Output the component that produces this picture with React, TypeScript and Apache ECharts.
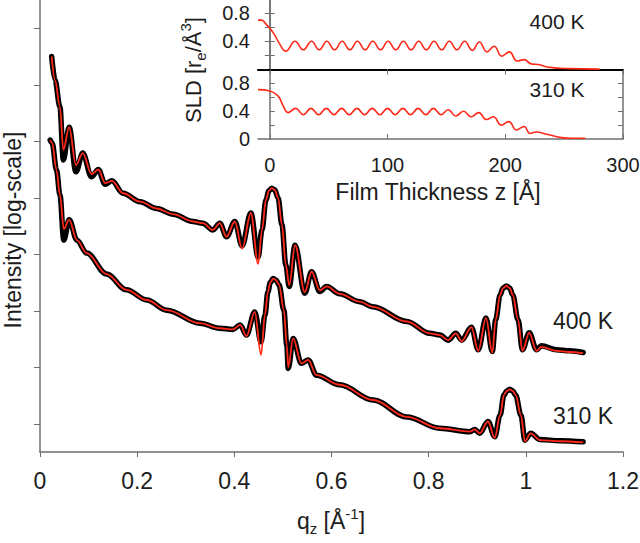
import React, { useEffect, useRef } from "react";
import * as echarts from "echarts";

// ---- Main reflectivity curves (q in 1/Å, intensity in decades, arbitrary offset) ----
const q400 = [0.024, 0.031, 0.041, 0.048, 0.060, 0.074, 0.088, 0.106, 0.120, 0.134, 0.148, 0.171, 0.206, 0.240, 0.274, 0.315, 0.335, 0.356, 0.370, 0.384, 0.401, 0.416, 0.434, 0.449, 0.457, 0.465, 0.471, 0.477, 0.483, 0.490, 0.498, 0.506, 0.513, 0.525, 0.545, 0.559, 0.576, 0.590, 0.617, 0.658, 0.685, 0.755, 0.802, 0.823, 0.840, 0.856, 0.868, 0.888, 0.902, 0.918, 0.931, 0.938, 0.947, 0.953, 0.960, 0.967, 0.973, 0.984, 0.993, 1.007, 1.022, 1.032, 1.063, 1.090, 1.118];
const data400 = [7.50, 7.08, 6.61, 5.67, 6.25, 5.46, 5.79, 5.37, 5.50, 5.24, 5.30, 5.08, 4.93, 4.81, 4.71, 4.58, 4.55, 4.43, 4.55, 4.31, 4.58, 4.15, 4.73, 3.95, 4.43, 4.96, 5.12, 5.17, 5.14, 5.00, 4.52, 3.81, 3.43, 4.16, 3.31, 3.69, 3.34, 3.43, 3.30, 3.16, 3.07, 2.81, 2.60, 2.57, 2.48, 2.60, 2.48, 2.71, 2.31, 2.87, 2.28, 2.84, 3.28, 3.40, 3.44, 3.40, 3.28, 2.84, 2.31, 2.61, 2.31, 2.38, 2.31, 2.29, 2.26];
const fit400 = [7.50, 7.08, 6.61, 5.85, 6.25, 5.58, 5.79, 5.42, 5.50, 5.26, 5.30, 5.08, 4.93, 4.81, 4.71, 4.58, 4.55, 4.43, 4.55, 4.31, 4.58, 4.10, 4.73, 3.83, 4.43, 4.96, 5.12, 5.17, 5.14, 5.00, 4.52, 3.81, 3.45, 4.16, 3.33, 3.69, 3.36, 3.43, 3.30, 3.16, 3.07, 2.81, 2.60, 2.57, 2.48, 2.60, 2.46, 2.71, 2.29, 2.87, 2.26, 2.84, 3.28, 3.40, 3.44, 3.40, 3.28, 2.84, 2.29, 2.61, 2.29, 2.36, 2.29, 2.27, 2.25];

const q310 = [0.021, 0.025, 0.034, 0.041, 0.049, 0.060, 0.076, 0.096, 0.137, 0.178, 0.220, 0.261, 0.329, 0.370, 0.397, 0.412, 0.425, 0.442, 0.455, 0.463, 0.469, 0.474, 0.480, 0.486, 0.492, 0.502, 0.508, 0.511, 0.521, 0.538, 0.552, 0.569, 0.617, 0.686, 0.755, 0.823, 0.885, 0.895, 0.905, 0.922, 0.936, 0.947, 0.955, 0.961, 0.967, 0.973, 0.979, 0.990, 0.998, 1.010, 1.029, 1.070, 1.118];
const data310 = [6.02, 5.97, 5.49, 5.05, 4.25, 4.61, 4.25, 4.02, 3.65, 3.37, 3.19, 3.01, 2.78, 2.69, 2.67, 2.75, 2.57, 2.98, 2.45, 2.92, 3.33, 3.50, 3.57, 3.54, 3.46, 3.01, 2.39, 1.98, 2.51, 2.07, 2.13, 1.86, 1.69, 1.42, 1.12, 0.92, 0.86, 0.90, 0.83, 1.04, 0.77, 1.15, 1.51, 1.58, 1.61, 1.58, 1.51, 1.15, 0.71, 0.83, 0.72, 0.70, 0.68];
const fit310 = [6.02, 5.97, 5.49, 5.05, 4.45, 4.61, 4.25, 4.02, 3.65, 3.37, 3.19, 3.01, 2.78, 2.69, 2.67, 2.75, 2.55, 2.98, 2.22, 2.92, 3.33, 3.50, 3.57, 3.54, 3.46, 3.01, 2.39, 2.00, 2.51, 2.07, 2.13, 1.86, 1.69, 1.42, 1.12, 0.92, 0.86, 0.90, 0.83, 1.04, 0.75, 1.15, 1.51, 1.58, 1.61, 1.58, 1.51, 1.15, 0.69, 0.83, 0.71, 0.69, 0.67];

// ---- Inset SLD profiles ----
const z400 = [-10, -7, -3, 3, 8.5, 13.6, 21.5, 28.5, 35.5, 42, 48.5, 55, 61.5, 68, 74.5, 81, 87.5, 94, 100.5, 107, 113.5, 120, 126.5, 133, 139.5, 146, 152.5, 159, 165.5, 172, 178, 184.5, 190.5, 197, 203.5, 210, 216, 222, 228, 238, 255, 280];
const sld400 = [0.70, 0.70, 0.64, 0.52, 0.36, 0.26, 0.40, 0.28, 0.40, 0.28, 0.40, 0.28, 0.40, 0.28, 0.40, 0.28, 0.40, 0.28, 0.40, 0.28, 0.40, 0.28, 0.40, 0.28, 0.40, 0.28, 0.40, 0.28, 0.40, 0.27, 0.39, 0.25, 0.33, 0.19, 0.25, 0.12, 0.14, 0.08, 0.07, 0.03, 0.012, 0.005];
const z310 = [-10, 0, 7, 11.3, 15.5, 22, 28.5, 35, 41.5, 48, 54.5, 61, 67.5, 74, 80.5, 87, 93.5, 100, 106.5, 113, 119.5, 126, 132.5, 139, 145.5, 151.5, 158, 164.5, 171, 177.5, 184, 190, 196.5, 203, 209.5, 216, 221, 226, 237, 248, 257, 268];
const sld310 = [0.71, 0.69, 0.62, 0.48, 0.38, 0.44, 0.35, 0.44, 0.35, 0.44, 0.35, 0.44, 0.35, 0.44, 0.35, 0.44, 0.35, 0.44, 0.35, 0.44, 0.35, 0.44, 0.35, 0.44, 0.35, 0.42, 0.33, 0.40, 0.32, 0.38, 0.28, 0.32, 0.20, 0.25, 0.13, 0.18, 0.08, 0.10, 0.06, 0.02, 0.01, 0.01];

// ---- Ticks / labels ----
const intensityTicks = [1, 2, 3, 4, 5, 6, 7, 8];
const zTicks = [0, 100, 200, 300];
const sldTicks = [0.2, 0.4, 0.6, 0.8];
const sldLabelsUpper = [0.4, 0.8];
const sldLabelsLower = [0, 0.4, 0.8];
const tempLabels = ["400 K", "310 K"];

const FONT = "'Liberation Sans', Arial, Helvetica, sans-serif";
const TXT = "#1c1c1c";
const AXIS = "#6f6f6f";
const RED = "#ff2a1a";

const zip = (xs: number[], ys: number[]) => xs.map((x, i) => [x, ys[i]]);

export default function App() {
  const ref = useRef<HTMLDivElement>(null);
  useEffect(() => {
    if (!ref.current) return;
    const chart = echarts.init(ref.current, undefined, { renderer: "svg" });
    const axisLine = { show: true, lineStyle: { color: AXIS, width: 1.5 } };
    const insetYAxis = (grid: number, pos: "left" | "right", labels: number[] | null) => ({
      type: "value",
      gridIndex: grid,
      position: pos,
      min: 0,
      max: 1,
      axisLine,
      splitLine: { show: false },
      axisTick: { show: true, inside: true, length: 5, customValues: sldTicks, lineStyle: { color: AXIS } },
      axisLabel: labels
        ? { show: true, customValues: labels, margin: 8, fontSize: 20, color: TXT, fontFamily: FONT }
        : { show: false },
    });
    const mainLine = (q: number[], v: number[], black: boolean) => ({
      type: "line",
      xAxisIndex: 0,
      yAxisIndex: 0,
      data: zip(q, v),
      showSymbol: false,
      smooth: 0.35,
      smoothMonotone: "x",
      lineStyle: black
        ? { color: "#000", width: 5.5, join: "round", cap: "round" }
        : { color: RED, width: 1.8 },
      z: black ? 2 : 3,
    });
    const option: any = {
      animation: false,
      backgroundColor: "#fff",
      grid: [
        { left: 40, top: 0, width: 583, height: 452, outerBoundsMode: "none", containLabel: false },
        { left: 258, top: -1, width: 365, height: 70.5, outerBoundsMode: "none", containLabel: false },
        { left: 258, top: 69.5, width: 365, height: 69.5, outerBoundsMode: "none", containLabel: false },
      ],
      xAxis: [
        {
          type: "value",
          gridIndex: 0,
          min: 0,
          max: 1.2,
          interval: 0.2,
          axisLine,
          splitLine: { show: false },
          axisTick: { show: true, length: 5, lineStyle: { color: AXIS } },
          axisLabel: { margin: 17, fontSize: 23, color: TXT, fontFamily: FONT },
        },
        {
          type: "value",
          gridIndex: 1,
          position: "top",
          min: -10,
          max: 300,
          axisLine,
          splitLine: { show: false },
          axisTick: { show: true, inside: true, length: 5, customValues: zTicks, lineStyle: { color: AXIS } },
          axisLabel: { show: false },
        },
        {
          type: "value",
          gridIndex: 1,
          position: "bottom",
          min: -10,
          max: 300,
          axisLine: { show: true, lineStyle: { color: "#000", width: 2.2 } },
          splitLine: { show: false },
          axisTick: { show: false },
          axisLabel: { show: false },
        },
        {
          type: "value",
          gridIndex: 2,
          position: "bottom",
          min: -10,
          max: 300,
          axisLine,
          splitLine: { show: false },
          axisTick: { show: true, inside: true, length: 5, customValues: zTicks, lineStyle: { color: AXIS } },
          axisLabel: { show: true, customValues: zTicks, margin: 16, fontSize: 20, color: TXT, fontFamily: FONT },
        },
      ],
      yAxis: [
        {
          type: "value",
          gridIndex: 0,
          min: 0.5,
          max: 8.5,
          axisLine,
          splitLine: { show: false },
          axisTick: { show: true, length: 6, customValues: intensityTicks, lineStyle: { color: AXIS } },
          axisLabel: { show: false },
        },
        insetYAxis(1, "left", sldLabelsUpper),
        insetYAxis(1, "right", null),
        insetYAxis(2, "left", sldLabelsLower),
        insetYAxis(2, "right", null),
      ],
      series: [
        mainLine(q400, data400, true),
        mainLine(q310, data310, true),
        mainLine(q400, fit400, false),
        mainLine(q310, fit310, false),
        {
          type: "line", xAxisIndex: 1, yAxisIndex: 1, data: zip(z400, sld400), showSymbol: false,
          smooth: 0.45, lineStyle: { color: RED, width: 1.6 }, z: 3,
        },
        {
          type: "line", xAxisIndex: 3, yAxisIndex: 3, data: zip(z310, sld310), showSymbol: false,
          smooth: 0.45, lineStyle: { color: RED, width: 1.6 }, z: 3,
        },
      ],
      graphic: [
        {
          type: "text", x: 13, y: 230, rotation: Math.PI / 2,
          style: { text: "Intensity [log-scale]", fontSize: 23, fontFamily: FONT, fill: TXT, align: "center", verticalAlign: "middle" },
        },
        {
          type: "text", x: 331, y: 521,
          style: {
            text: "{n|q}{sub|z}{n| [Å}{sup|-1}{n|]}",
            align: "center", verticalAlign: "middle", fontFamily: FONT, fill: TXT,
            rich: {
              n: { fontSize: 23, fontFamily: FONT, fill: TXT, lineHeight: 30 },
              sub: { fontSize: 15, fontFamily: FONT, fill: TXT, lineHeight: 16, verticalAlign: "bottom" },
              sup: { fontSize: 15, fontFamily: FONT, fill: TXT, lineHeight: 16, verticalAlign: "top" },
            },
          },
        },
        {
          type: "text", x: 193, y: 70, rotation: Math.PI / 2,
          style: {
            text: "{n|SLD [r}{sub|e}{n|/Å}{sup|3}{n|]}",
            align: "center", verticalAlign: "middle", fontFamily: FONT, fill: TXT,
            rich: {
              n: { fontSize: 22, fontFamily: FONT, fill: TXT, lineHeight: 30 },
              sub: { fontSize: 15, fontFamily: FONT, fill: TXT, lineHeight: 16, verticalAlign: "bottom" },
              sup: { fontSize: 15, fontFamily: FONT, fill: TXT, lineHeight: 16, verticalAlign: "top" },
            },
          },
        },
        {
          type: "text", x: 438, y: 192,
          style: { text: "Film Thickness z [Å]", fontSize: 23, fontFamily: FONT, fill: TXT, align: "center", verticalAlign: "middle" },
        },
        {
          type: "text", x: 583, y: 321,
          style: { text: tempLabels[0], fontSize: 23, fontFamily: FONT, fill: TXT, align: "center", verticalAlign: "middle" },
        },
        {
          type: "text", x: 583, y: 416,
          style: { text: tempLabels[1], fontSize: 23, fontFamily: FONT, fill: TXT, align: "center", verticalAlign: "middle" },
        },
        {
          type: "text", x: 557, y: 21,
          style: { text: tempLabels[0], fontSize: 21, fontFamily: FONT, fill: TXT, align: "center", verticalAlign: "middle" },
        },
        {
          type: "text", x: 557, y: 89,
          style: { text: tempLabels[1], fontSize: 21, fontFamily: FONT, fill: TXT, align: "center", verticalAlign: "middle" },
        },
      ],
    };
    chart.setOption(option);
    return () => chart.dispose();
  }, []);
  return <div ref={ref} style={{ position: "absolute", left: 0, top: 0, width: 640, height: 543 }} />;
}
